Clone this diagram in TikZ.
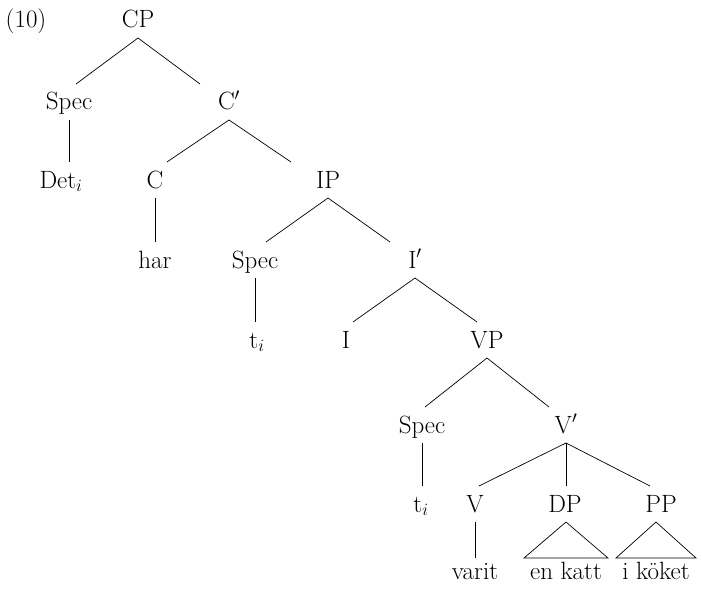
\documentclass[tikz,border=0pt]{standalone}
\begin{document}
\begin{tikzpicture}[x=1pt,y=-1pt,line width=0.7pt,
    lab/.style={anchor=base,inner sep=0pt,outer ysep=10pt,text height=16pt,text depth=0pt,font=\fontsize{25}{30}\selectfont},
    leaf/.style={lab,outer ysep=5pt}]
        \useasboundingbox (0,0) rectangle (702,594);
        \node[lab] (ex) at (26,28) {(10)};
        \node[lab] (CP) at (138,28) {CP};
        \node[lab] (SpecC) at (69,110) {Spec};
        \node[lab] (Cbar) at (229,110) {C$'$};
        \node[lab] (Det) at (61,188) {Det$_i$};
        \node[lab] (C) at (155,188) {C};
        \node[lab] (IP) at (328,188) {IP};
        \node[lab] (har) at (155,268) {har};
        \node[lab] (SpecI) at (255,268) {Spec};
        \node[lab] (Ibar) at (415,268) {I$'$};
        \node[lab] (tI) at (257,348) {t$_i$};
        \node[lab] (I) at (346,348) {I};
        \node[lab] (VP) at (487,348) {VP};
        \node[lab] (SpecV) at (422,433) {Spec};
        \node[lab] (Vbar) at (566,433) {V$'$};
        \node[lab] (tV) at (421,512) {t$_i$};
        \node[lab] (V) at (475,512) {V};
        \node[lab] (DP) at (565,512) {DP};
        \node[lab] (PP) at (661,512) {PP};
        \node[leaf] (varit) at (475,579) {varit};
        \node[leaf] (katt) at (566,579) {en katt};
        \node[leaf] (koket) at (656,579) {i köket};
        % binary branches
        \draw[-] (CP.south) -- ([xshift=-62pt]CP.south |- SpecC.north);
        \draw[-] (CP.south) -- ([xshift=62pt]CP.south |- Cbar.north);
        \draw[-] (Cbar.south) -- ([xshift=-62pt]Cbar.south |- C.north);
        \draw[-] (Cbar.south) -- ([xshift=62pt]Cbar.south |- IP.north);
        \draw[-] (IP.south) -- ([xshift=-62pt]IP.south |- SpecI.north);
        \draw[-] (IP.south) -- ([xshift=62pt]IP.south |- Ibar.north);
        \draw[-] (Ibar.south) -- ([xshift=-62pt]Ibar.south |- I.north);
        \draw[-] (Ibar.south) -- ([xshift=62pt]Ibar.south |- VP.north);
        \draw[-] (VP.south) -- ([xshift=-62pt]VP.south |- SpecV.north);
        \draw[-] (VP.south) -- ([xshift=62pt]VP.south |- Vbar.north);
        % V' has three daughters
        \draw[-] (Vbar.south) -- ([xshift=-87pt]Vbar.south |- V.north);
        \draw[-] (Vbar.south) -- (Vbar.south |- DP.north);
        \draw[-] (Vbar.south) -- ([xshift=84pt]Vbar.south |- PP.north);
        % unary branches
        \draw[-] (SpecC.south) -- (SpecC.south |- Det.north);
        \draw[-] (C.south) -- (C.south |- har.north);
        \draw[-] (SpecI.south) -- (SpecI.south |- tI.north);
        \draw[-] (SpecV.south) -- (SpecV.south |- tV.north);
        \draw[-] (V.south) -- (V.south |- varit.north);
        % triangles
        \draw[-] (katt.north |- DP.south) -- ([xshift=-42pt]katt.north) -- ([xshift=42pt]katt.north) -- cycle;
        \draw[-] (koket.north |- PP.south) -- ([xshift=-40pt]koket.north) -- ([xshift=40pt]koket.north) -- cycle;
    \end{tikzpicture}
\end{document}
